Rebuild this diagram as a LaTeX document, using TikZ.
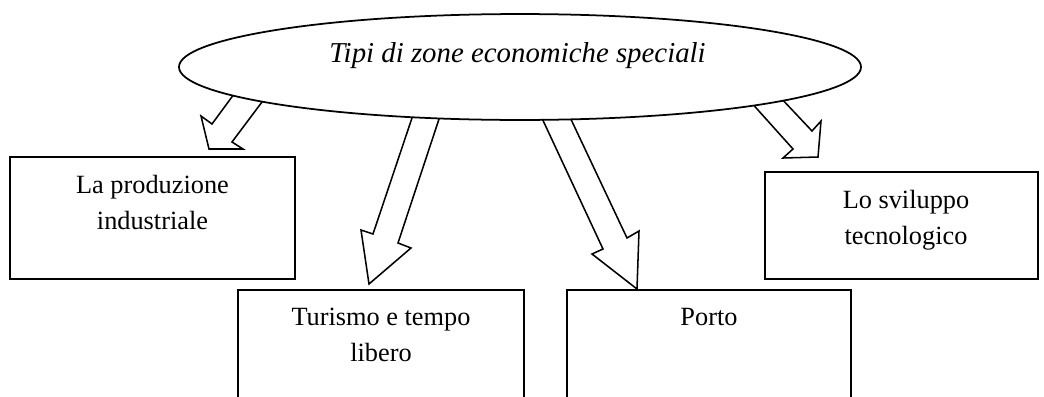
\documentclass[tikz,border=0pt]{standalone}
\usepackage{fontspec}
\setmainfont{Liberation Serif}
\usepackage{tikz}
\usetikzlibrary{shapes.geometric}
\begin{document}
\begin{tikzpicture}[x=0.456pt, y=-0.456pt,
	zbox/.style={rectangle, draw=black, line width=0.8pt, inner sep=0pt},
	ztext/.style={anchor=north, align=center, inner sep=0pt, font=\fontsize{12}{16.2}\selectfont},
	blockarr/.style={draw=black, line width=0.7pt, line join=miter}]
			\useasboundingbox (0,0) rectangle (1044,396);
			\clip (0,0) rectangle (1044,396);
			\draw[blockarr] (237,90) -- (212,124) -- (201,116) -- (209,149) -- (243,149) -- (232,142) -- (265,98);
			\draw[blockarr] (414,112) -- (373,234) -- (361,230) -- (369,284) -- (411,248) -- (398,243) -- (441,113);
			\draw[blockarr] (540,114) -- (603,249) -- (592,254) -- (637,289) -- (639,231) -- (627,238) -- (568,113);
			\draw[blockarr] (749,100) -- (793,149) -- (783,158) -- (818,157) -- (821,121) -- (812,131) -- (779,96);
			\node[ellipse, draw=black, fill=white, line width=0.8pt, minimum width=311pt, minimum height=48.3pt] (zes) at (520,67) {};
			\node[anchor=base, inner sep=0pt, font=\fontsize{13.15}{15}\selectfont\itshape] (zestitle) at (517.5,62) {Tipi di zone economiche speciali};
			\node[zbox, minimum width=130pt, minimum height=55.6pt] (industry) at (152.5,218) {};
			\node[zbox, minimum width=130.4pt, minimum height=63.8pt] (tourism) at (381,360) {};
			\node[zbox, minimum width=129.5pt, minimum height=63.8pt] (port) at (709,360) {};
			\node[zbox, minimum width=124.5pt, minimum height=48.8pt] (tech) at (901.5,225.5) {};
			\node[ztext] (industrytext) at (152.5,175) {La produzione\\industriale};
			\node[ztext] (tourismtext) at (381,308) {Turismo e tempo\\libero};
			\node[ztext] (porttext) at (709,308) {Porto};
			\node[ztext] (techtext) at (906,190) {Lo sviluppo\\tecnologico};
\end{tikzpicture}
\end{document}
